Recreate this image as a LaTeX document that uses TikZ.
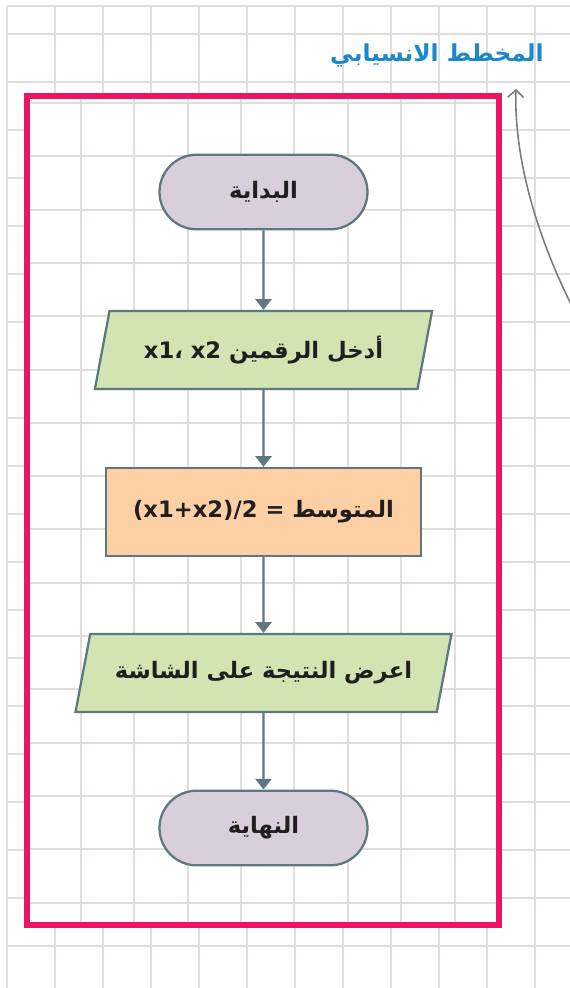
\documentclass[tikz,border=0pt]{standalone}
\usepackage{fontspec}
\usetikzlibrary{shapes.geometric,arrows.meta}
\TeXXeTstate=1
\newfontfamily\arabicfont[Script=Arabic]{DejaVu Sans}

\definecolor{gridgray}{HTML}{E3DEDB}
\definecolor{framered}{HTML}{EC1563}
\definecolor{slate}{HTML}{5F7781}
\definecolor{lilac}{HTML}{D9CFDC}
\definecolor{leaf}{HTML}{D1E4B1}
\definecolor{peach}{HTML}{FCCFA4}
\definecolor{titleblue}{HTML}{1C88C9}
\definecolor{pencil}{HTML}{7C7C7C}

\tikzset{
	box/.style={draw=slate, line width=1.7pt, inner sep=0pt, text=black!88,
		font=\arabicfont\bfseries\fontsize{17}{20}\selectfont},
	terminal/.style={box, fill=lilac, rounded corners=28pt,
		minimum width=156pt, minimum height=56pt},
	inout/.style={box, fill=leaf, trapezium, trapezium stretches=true,
		minimum height=58.5pt},
	process/.style={box, fill=peach, rectangle,
		minimum width=236pt, minimum height=66pt},
	flow/.style={slate, line width=1.8pt, -{Triangle[length=8pt,width=12pt]}},
}

\begin{document}
\begin{tikzpicture}[x=0.75pt, y=-0.75pt]
\useasboundingbox (0,0) rectangle (570,988);

% ورقة المربعات
\begin{scope}[gridgray, line width=1.5pt]
	\foreach \x in {7, 55, ..., 535}
		\draw (\x,6) -- (\x,988);
	\draw (7,6) -- (570,6);
	\foreach \y in {34, 82, ..., 946}
		\draw (7,\y) -- (570,\y);
\end{scope}

% الإطار
\fill[white] (27,96) rectangle (499,925);
\begin{scope}[gridgray, line width=1.5pt]
	\foreach \x in {80.7, 134.1, ..., 456}
		\draw (\x,96) -- (\x,925);
	\foreach \y in {103, 156.3, ..., 905}
		\draw (27,\y) -- (499,\y);
\end{scope}
\draw[framered, line width=3.8pt] (27,96) rectangle (499,925);

\node[anchor=east, text=titleblue, inner sep=0pt,
	font=\arabicfont\bfseries\fontsize{17.5}{20}\selectfont] (title) at (544,55)
	{\beginR المخطط الانسيابي\endR};

% المخطط
\node[terminal] (start) at (263.5,192) {\beginR البداية\endR};
\node[inout, trapezium left angle=68, trapezium right angle=112,
	minimum width=253.5pt] (input) at (263.5,350)
	{\beginR أدخل الرقمين \beginL x1، x2\endL\endR};
\node[process] (mean) at (263.5,512)
	{\beginR المتوسط = \beginL (x1+x2)/2\endL\endR};
\node[inout, trapezium left angle=61, trapezium right angle=119,
	minimum width=283pt] (output) at (263.5,673)
	{\beginR اعرض النتيجة على الشاشة\endR};
\node[terminal] (stop) at (263.5,828) {\beginR النهاية\endR};

\draw[flow] (start) -- (input);
\draw[flow] (input) -- (mean);
\draw[flow] (mean) -- (output);
\draw[flow] (output) -- (stop);

% السهم المنحني
\coordinate (arcfoot) at (578,318);
\coordinate (arctip) at (516,89);
\draw[pencil, line width=1.2pt, -{Straight Barb[length=5.5pt,width=12pt]}]
	(arcfoot) .. controls (532,230) and (514,150) .. (arctip);
\end{tikzpicture}
\end{document}
